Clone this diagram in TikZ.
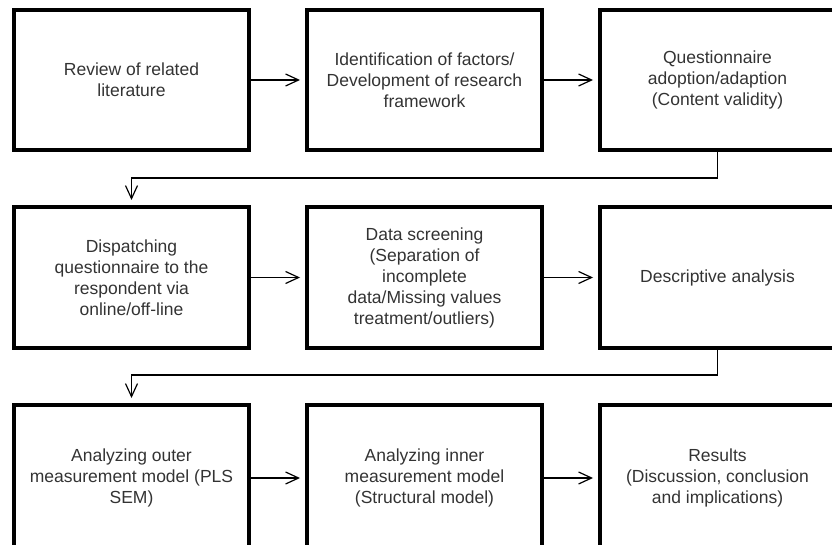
\documentclass[tikz,border=0pt]{standalone}
\usepackage{fontspec}
\setmainfont{Liberation Sans}
\usetikzlibrary{arrows.meta, positioning}

\begin{document}
\begin{tikzpicture}[x=1pt, y=-1pt,
    stage/.style={draw, line width=4pt, minimum width=235pt, minimum height=140pt,
                  align=center, text=black!80,
                  font=\fontsize{17.5}{21}\selectfont},
    flow/.style={line width=1.2pt, -{Straight Barb[length=13pt, width=12pt]},
                 shorten >=5pt}
]
  \path[use as bounding box, clip] (0,0) rectangle (832,545);
  \foreach \t/\n/\x/\y/\h in {
      {Review of related\\literature}/s1/131.5/80/140,
      {Identification of factors/\\Development of research\\framework}/s2/424.5/80/140,
      {Questionnaire\\adoption/adaption\\(Content validity)}/s3/717.5/80/140,
      {Dispatching\\questionnaire to the\\respondent via\\online/off-line}/s4/131.5/277.5/141,
      {Data screening\\(Separation of\\incomplete\\data/Missing values\\treatment/outliers)}/s5/424.5/277.5/141,
      {Descriptive analysis}/s6/717.5/277.5/141,
      {Analyzing outer\\measurement model (PLS\\SEM)}/s7/131.5/478/146,
      {Analyzing inner\\measurement model\\(Structural model)}/s8/424.5/478/146,
      {Results\\(Discussion, conclusion\\and implications)}/s9/717.5/478/146} {
    \node[stage, minimum height=\h pt] (\n) at (\x, \y) {\t};
  }
  \foreach \a/\b in {s1/s2, s2/s3, s4/s5, s5/s6, s7/s8, s8/s9}
    \draw[flow] (\a) -- (\b);
  % wrap to the next row
  \draw[flow] (s3.south) -- ++(0,26) -| (s4.north);
  \draw[flow] (s6.south) -- ++(0,25) -| (s7.north);
\end{tikzpicture}
\end{document}
